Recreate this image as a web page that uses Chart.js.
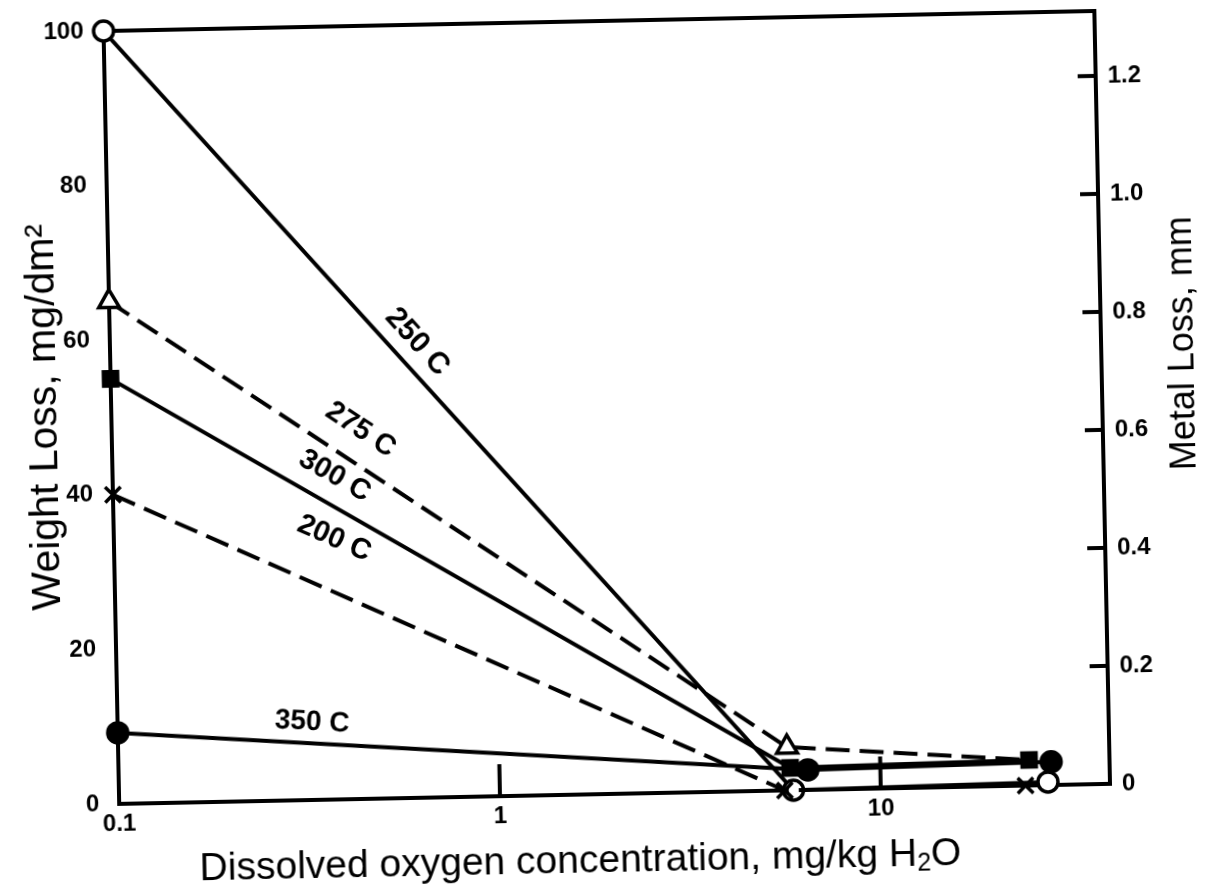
<!DOCTYPE html>
<html>
<head>
<meta charset="utf-8">
<script src="https://cdn.jsdelivr.net/npm/chart.js@4.4.1/dist/chart.umd.min.js"></script>
<style>
  html, body { margin: 0; padding: 0; background: #fff; overflow: hidden; }
  /* the scanned original sits slightly tilted */
  canvas { display: block; transform: rotate(-1.16deg); transform-origin: 604.5px 443.5px; }
</style>
</head>
<body>
<canvas id="myChart" width="1209" height="887"></canvas>
<script>
// dissolved oxygen (mg/kg H2O) and weight loss (mg/dm2), one pair per temperature
const oxygen250 = [0.1, 5.9, 27.5];
const loss250 = [100, 0, 0.4];
const oxygen275 = [0.1, 5.7, 24.6];
const loss275 = [65, 5.6, 3.3];
const oxygen300 = [0.1, 5.8, 24.6];
const loss300 = [55, 2.9, 3.3];
const oxygen200 = [0.1, 5.6, 24];
const loss200 = [40, 0, 0];
const oxygen350 = [0.1, 6.45, 28.1];
const loss350 = [9.2, 2.6, 3.0];

const temps = ['250 C', '275 C', '300 C', '200 C', '350 C'];
const xTicks = [0.1, 1, 10];
const lossTicks = [0, 20, 40, 60, 80, 100];
const metalTicks = [0, 0.2, 0.4, 0.6, 0.8, 1.0, 1.2];

const FONT = '"Liberation Sans", Arial, Helvetica, sans-serif';

const toPoints = (xs, ys) => xs.map((x, i) => ({ x: x, y: ys[i] }));

// where each temperature name sits along its first segment
const labelPlace = [
    { t: 0.43, off: 23, size: 30 },
    { t: 0.346, off: 31, size: 29 },
    { t: 0.31, off: 27, size: 29 },
    { t: 0.30, off: 49, size: 29 },
    { t: 0.28, off: 21, size: 28 }
];

const annotate = {
    id: 'annotate',
    beforeDatasetsDraw(chart) {
        const { ctx, chartArea: a, scales } = chart;
        ctx.save();
        ctx.strokeStyle = '#000';
        ctx.lineWidth = 4;
        ctx.strokeRect(a.left, a.top, a.right - a.left, a.bottom - a.top);
        // x ticks point up into the plot
        xTicks.slice(1).forEach(v => {
            const px = scales.x.getPixelForValue(v);
            ctx.beginPath();
            ctx.moveTo(px, a.bottom);
            ctx.lineTo(px, a.bottom - 32);
            ctx.stroke();
        });
        // right axis ticks point left
        metalTicks.forEach(v => {
            const py = scales.y2.getPixelForValue(v);
            ctx.beginPath();
            ctx.moveTo(a.right, py);
            ctx.lineTo(a.right - 18, py);
            ctx.stroke();
        });
        ctx.restore();
    },
    afterDatasetsDraw(chart) {
        const ctx = chart.ctx;
        ctx.save();
        ctx.fillStyle = '#000';
        ctx.textAlign = 'center';
        ctx.textBaseline = 'middle';
        temps.forEach((name, i) => {
            const pts = chart.getDatasetMeta(i).data;
            const p0 = pts[0], p1 = pts[1];
            const place = labelPlace[i];
            const x = p0.x + place.t * (p1.x - p0.x);
            const y = p0.y + place.t * (p1.y - p0.y);
            const ang = Math.atan2(p1.y - p0.y, p1.x - p0.x);
            ctx.save();
            ctx.font = 'bold ' + place.size + 'px ' + FONT;
            ctx.translate(x, y);
            ctx.rotate(ang);
            ctx.fillText(name, 0, -place.off);
            ctx.restore();
        });
        ctx.restore();
    },
    afterDraw(chart) {
        const ctx = chart.ctx;
        const big = '39px ' + FONT;
        const small = '25px ' + FONT;
        ctx.save();
        ctx.fillStyle = '#000';
        ctx.textBaseline = 'middle';

        // bottom title with subscript 2
        const partA = 'Dissolved oxygen concentration, mg/kg H';
        const partB = 'O';
        ctx.font = big;
        const wA = ctx.measureText(partA).width;
        const wB = ctx.measureText(partB).width;
        ctx.font = small;
        const wSub = ctx.measureText('2').width;
        const sx = 572 - (wA + wSub + wB) / 2;
        ctx.textAlign = 'left';
        ctx.font = big;
        ctx.fillText(partA, sx, 861);
        ctx.fillText(partB, sx + wA + wSub, 861);
        ctx.font = small;
        ctx.fillText('2', sx + wA, 870);

        ctx.textAlign = 'center';
        ctx.save();
        ctx.font = '41px ' + FONT;
        ctx.translate(46, 406);
        ctx.rotate(-Math.PI / 2);
        ctx.fillText('Weight Loss, mg/dm\u00B2', 0, 0);
        ctx.restore();

        ctx.save();
        ctx.font = '36px ' + FONT;
        ctx.translate(1185, 355);
        ctx.rotate(-Math.PI / 2);
        ctx.fillText('Metal Loss, mm', 0, 0);
        ctx.restore();
        ctx.restore();
    }
};

const line = (idx, xs, ys, style, radius, filled, dashed, order) => ({
    label: temps[idx],
    data: toPoints(xs, ys),
    order: order,
    borderColor: '#000',
    borderWidth: 4,
    borderDash: dashed ? [24, 10] : [],
    pointStyle: style,
    pointRadius: radius,
    pointBorderWidth: 3.5,
    pointBorderColor: '#000',
    pointBackgroundColor: filled ? '#000' : '#fff',
    showLine: true,
    clip: false,
    tension: 0
});

// vertical axes: fixed width, and no extra room reserved above/below for end labels
const fitSide = w => s => {
    s.width = w;
    s.paddingTop = 0;
    s.paddingBottom = 0;
};

const ctx = document.getElementById('myChart').getContext('2d');
const chart = new Chart(ctx, {
    type: 'scatter',
    data: {
        datasets: [
            line(0, oxygen250, loss250, 'circle', 10, false, false, 3),
            line(1, oxygen275, loss275, 'triangle', [12, 12, 0], false, true, 4),
            line(2, oxygen300, loss300, 'rect', 10, true, false, 1),
            line(3, oxygen200, loss200, 'crossRot', 11, false, true, 2),
            line(4, oxygen350, loss350, 'circle', 10, true, false, 0)
        ]
    },
    options: {
        responsive: false,
        animation: false,
        layout: { padding: { top: 21, left: 0, right: 0, bottom: 0 } },
        plugins: {
            legend: { display: false },
            tooltip: { enabled: false }
        },
        scales: {
            x: {
                type: 'logarithmic',
                position: 'bottom',
                min: 0.1,
                max: 40,
                grid: { display: false, drawTicks: false },
                border: { display: false },
                afterBuildTicks: s => { s.ticks = xTicks.map(v => ({ value: v })); },
                afterFit: s => { s.height = 93; },
                ticks: {
                    autoSkip: false,
                    maxRotation: 0,
                    padding: 6,
                    color: '#000',
                    font: { family: FONT, size: 24, weight: 'bold' },
                    callback: v => String(v)
                }
            },
            y: {
                position: 'left',
                min: 0,
                max: 100,
                grid: { display: false, drawTicks: false },
                border: { display: false },
                afterBuildTicks: s => { s.ticks = lossTicks.map(v => ({ value: v })); },
                afterFit: fitSide(112),
                ticks: {
                    padding: 20,
                    color: '#000',
                    font: { family: FONT, size: 24, weight: 'bold' }
                }
            },
            y2: {
                position: 'right',
                min: 0,
                max: 1.31,
                grid: { display: false, drawTicks: false },
                border: { display: false },
                afterBuildTicks: s => { s.ticks = metalTicks.map(v => ({ value: v })); },
                afterFit: fitSide(106),
                ticks: {
                    padding: 12,
                    color: '#000',
                    font: { family: FONT, size: 24, weight: 'bold' },
                    callback: v => (v === 0 ? '0' : v.toFixed(1))
                }
            }
        }
    },
    plugins: [annotate]
});
</script>
</body>
</html>
